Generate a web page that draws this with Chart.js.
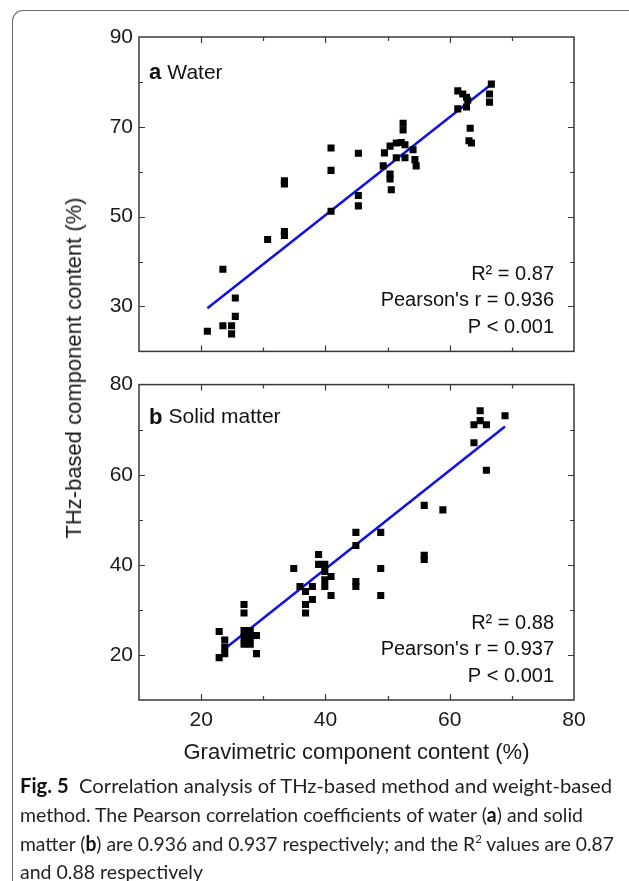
<!DOCTYPE html>
<html lang="en">
<head>
<meta charset="UTF-8">
<meta name="viewport" content="width=device-width, initial-scale=1.0">
<script src="https://cdn.jsdelivr.net/npm/chart.js"></script>
<title>Fig. 5 THz vs gravimetric content</title>
<style>
    body { margin: 0; background: #fff; }
    #page { position: relative; width: 629px; height: 881px; overflow: hidden; font-family: "Liberation Sans", Arial, sans-serif; color: #1a1a1a; }
    #box { position: absolute; left: 12px; top: 10px; width: 700px; height: 900px; border-left: 1px solid #6a6a6a; border-top: 1px solid #6a6a6a; border-top-left-radius: 11px; }
    #chartA { position: absolute; left: 0; top: 0; }
    #chartB { position: absolute; left: 0; top: 366px; }
    #ytitle { position: absolute; left: 74px; top: 368px; transform: translate(-50%, -50%) rotate(-90deg); white-space: nowrap; font-size: 22px; }
    #caption { position: absolute; left: 20px; top: 771px; font-family: Lato, sans-serif; font-size: 20px; line-height: 28.8px; color: #231f20; white-space: nowrap; }
    #caption .ln { display: block; width: max-content; transform-origin: 0 50%; }
    #caption b { color: #111; }
</style>
</head>
<body>
<div id="page">
    <div id="box"></div>
    <canvas id="chartA" width="629" height="370"></canvas>
    <canvas id="chartB" width="629" height="400"></canvas>
    <div id="ytitle">THz-based component content (%)</div>
    <div id="caption">
        <span class="ln" data-w="592"><b>Fig. 5</b>&nbsp; Correlation analysis of THz-based method and weight-based</span>
        <span class="ln" data-w="563">method. The Pearson correlation coefficients of water (<b>a</b>) and solid</span>
        <span class="ln" data-w="594">matter (<b>b</b>) are 0.936 and 0.937 respectively; and the R<sup style="font-size:12px;line-height:0">2</sup> values are 0.87</span>
        <span class="ln" data-w="183">and 0.88 respectively</span>
    </div>
</div>

<script>
// ticks
const xTickValues = [20, 30, 40, 50, 60, 70];
const xTickLabels = [20, 40, 60, 80];
const yTicksA = [30, 40, 50, 60, 70, 80];
const yLabelsA = [30, 50, 70, 90];
const yTicksB = [20, 30, 40, 50, 60, 70];
const yLabelsB = [20, 40, 60, 80];

// (a) water: gravimetric vs THz
const waterX = [21.0, 23.5, 23.5, 24.9, 24.9, 25.5, 25.5, 30.7, 33.4, 33.4, 33.4, 33.4,
    40.9, 40.9, 40.9, 45.3, 45.3, 45.3, 49.3, 49.5, 50.4, 50.4, 50.4, 50.6, 51.4, 52.2, 52.8,
    51.4, 52.8, 52.5, 52.5, 54.1, 54.4, 54.6, 61.3, 62.1, 62.7, 61.3, 62.7, 62.9, 63.3, 63.1,
    63.5, 66.7, 66.4, 66.4];
const waterY = [24.5, 38.3, 25.7, 25.7, 23.9, 27.8, 31.9, 44.9, 58.0, 57.3, 46.7, 45.8,
    65.3, 60.3, 51.2, 64.1, 54.7, 52.4, 61.3, 64.2, 65.7, 59.5, 58.4, 56.0, 66.4, 66.5, 66.0,
    63.1, 63.1, 70.8, 69.3, 64.9, 62.7, 61.3, 78.0, 77.3, 76.6, 74.0, 74.4, 75.9, 69.7, 66.9,
    66.4, 79.5, 77.3, 75.5];
const waterFitX = [21.0, 66.7];
const waterFitY = [29.6, 79.5];

// (b) solid matter
const solidX = [22.9, 22.9, 23.8, 23.8, 23.8, 26.9, 26.9, 26.9, 26.9, 26.9, 27.9, 27.9, 27.9,
    28.9, 28.9, 34.9, 35.9, 36.8, 36.8, 36.8, 37.9, 37.9, 38.9, 38.9, 39.9, 39.9, 39.9, 39.9,
    40.9, 40.9, 44.9, 44.9, 44.9, 44.9, 48.9, 48.9, 48.9, 55.9, 55.9, 55.9, 58.9, 63.9, 63.9,
    64.9, 64.9, 65.9, 65.9, 68.9];
const solidY = [25.2, 19.4, 23.3, 21.7, 20.3, 31.2, 29.3, 25.4, 23.9, 22.4, 25.4, 23.9, 22.4,
    24.3, 20.3, 39.2, 35.2, 34.1, 31.2, 29.3, 35.2, 32.3, 42.3, 40.1, 40.1, 38.5, 36.7, 35.2,
    37.4, 33.2, 47.2, 44.3, 36.3, 35.2, 47.2, 39.2, 33.2, 53.2, 42.1, 41.2, 52.2, 67.1, 71.1,
    74.2, 72.0, 71.1, 61.0, 73.1];
const solidFitX = [23.3, 68.9];
const solidFitY = [20.8, 70.7];

const FONT = '"Liberation Sans", Arial, sans-serif';

// squeeze caption lines to the width they take in the figure
document.querySelectorAll('#caption .ln').forEach(el => {
    const w = el.getBoundingClientRect().width;
    el.style.transform = 'scaleX(' + (parseFloat(el.dataset.w) / w) + ')';
});

// frame, inward ticks, panel letter and stats text
const panelDecor = {
    id: 'panelDecor',
    afterDatasetsDraw(chart, args, o) {
        const ctx = chart.ctx;
        const a = chart.chartArea;
        const x = chart.scales.x, y = chart.scales.y;
        ctx.save();
        ctx.strokeStyle = '#3a3a3a';
        ctx.lineWidth = 1.2;
        ctx.beginPath();
        xTickValues.forEach(v => {
            const px = Math.round(x.getPixelForValue(v)) + 0.5;
            const len = xTickLabels.includes(v) ? 6 : 4;
            ctx.moveTo(px, a.top); ctx.lineTo(px, a.top + len);
            ctx.moveTo(px, a.bottom); ctx.lineTo(px, a.bottom - len);
        });
        o.yTicks.forEach(v => {
            const py = Math.round(y.getPixelForValue(v)) + 0.5;
            const len = o.yLabels.includes(v) ? 6 : 4;
            ctx.moveTo(a.left, py); ctx.lineTo(a.left + len, py);
            ctx.moveTo(a.right, py); ctx.lineTo(a.right - len, py);
        });
        ctx.stroke();
        ctx.lineWidth = 1.5;
        ctx.strokeRect(a.left, a.top, a.right - a.left, a.bottom - a.top);

        ctx.fillStyle = '#111';
        ctx.textBaseline = 'middle';
        ctx.textAlign = 'left';
        ctx.font = 'bold 22px ' + FONT;
        ctx.fillText(o.letter, a.left + 10, a.top + o.labelDy);
        const w = ctx.measureText(o.letter + ' ').width;
        ctx.font = '21px ' + FONT;
        ctx.fillText(o.name, a.left + 10 + w, a.top + o.labelDy);

        ctx.textAlign = 'right';
        ctx.font = '20px ' + FONT;
        o.stats.forEach((s, i) => ctx.fillText(s, a.right - 20, a.bottom - 77 + i * 26.5));
        ctx.restore();
    }
};

function makeChart(id, xs, ys, fitX, fitY, yMin, yMax, yLabels, yTicks, decor, padding, showX) {
    const pts = xs.map((v, i) => ({x: v, y: ys[i]}));
    const fit = fitX.map((v, i) => ({x: v, y: fitY[i]}));
    return new Chart(document.getElementById(id), {
        type: 'scatter',
        data: {
            datasets: [{
                data: pts,
                pointStyle: 'rect',
                pointRadius: 5,
                borderWidth: 0,
                backgroundColor: '#000'
            }, {
                data: fit,
                showLine: true,
                pointRadius: 0,
                borderColor: '#1010e8',
                borderWidth: 2.5
            }]
        },
        options: {
            responsive: false,
            animation: false,
            layout: {padding: padding},
            plugins: {
                legend: {display: false},
                tooltip: {enabled: false},
                panelDecor: Object.assign({yTicks: yTicks, yLabels: yLabels}, decor)
            },
            scales: {
                x: {
                    min: 10, max: 80,
                    display: showX,
                    grid: {display: false, drawTicks: false},
                    border: {display: false},
                    ticks: {
                        stepSize: 10,
                        padding: 8,
                        color: '#1a1a1a',
                        font: {size: 21, family: FONT},
                        maxRotation: 0,
                        callback: v => xTickLabels.includes(v) ? v : ''
                    },
                    title: {
                        display: showX,
                        text: 'Gravimetric component content (%)',
                        color: '#1a1a1a',
                        font: {size: 22, family: FONT},
                        padding: {top: 2, bottom: 0}
                    },
                    afterFit: s => { s.height = showX ? 66 : 0; }
                },
                y: {
                    min: yMin, max: yMax,
                    grid: {display: false, drawTicks: false},
                    border: {display: false},
                    ticks: {
                        stepSize: 10,
                        padding: 6,
                        color: '#1a1a1a',
                        font: {size: 21, family: FONT},
                        callback: v => yLabels.includes(v) ? v : ''
                    },
                    afterFit: s => { s.width = 139; }
                }
            }
        },
        plugins: [panelDecor]
    });
}

makeChart('chartA', waterX, waterY, waterFitX, waterFitY, 20, 90, yLabelsA, yTicksA,
    {letter: 'a', name: 'Water', labelDy: 36,
     stats: ['R\u00B2 = 0.87', "Pearson's r = 0.936", 'P < 0.001']},
    {top: 37, right: 55, bottom: 14, left: 0}, false);

makeChart('chartB', solidX, solidY, solidFitX, solidFitY, 10, 80, yLabelsB, yTicksB,
    {letter: 'b', name: 'Solid matter', labelDy: 33,
     stats: ['R\u00B2 = 0.88', "Pearson's r = 0.937", 'P < 0.001']},
    {top: 14, right: 55, bottom: 0, left: 0}, true);
</script>
</body>
</html>
